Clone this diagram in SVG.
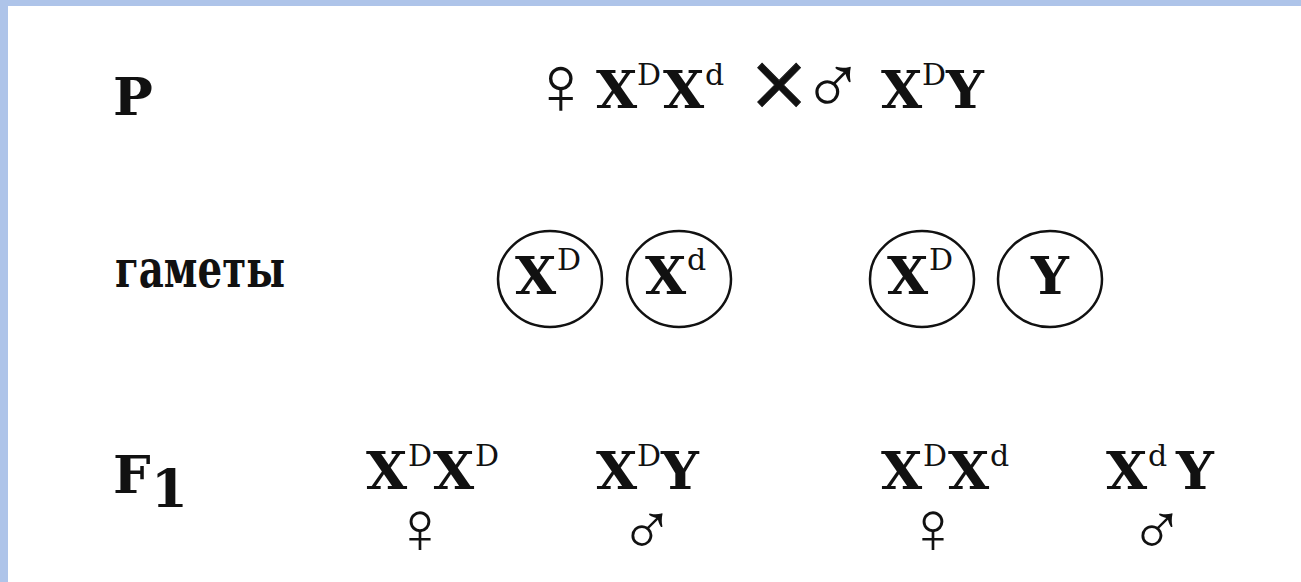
<svg xmlns="http://www.w3.org/2000/svg" width="1301" height="582" viewBox="0 0 1301 582">
<style>
.m{font-family:"DejaVu Serif","Liberation Serif",serif;font-weight:bold;font-size:53px;fill:#111}
.s{font-family:"DejaVu Serif","Liberation Serif",serif;font-weight:normal;font-size:30px;fill:#111}
.sym{font-family:"DejaVu Sans",sans-serif;font-weight:200;font-size:84px;fill:#111;text-anchor:middle}
.sym2{font-family:"DejaVu Sans",sans-serif;font-weight:200;font-size:74px;fill:#111;text-anchor:middle}
.x{font-family:"DejaVu Sans",sans-serif;font-weight:normal;font-size:76px;fill:#111;stroke:#111;stroke-width:0.9;text-anchor:middle}
.lbl{font-family:"DejaVu Serif","Liberation Serif",serif;font-weight:bold;font-size:53px;fill:#111}
.g{fill:none;stroke:#111;stroke-width:2.5}
</style>
<rect x="0" y="0" width="1301" height="582" fill="#aec4e9"/>
<rect x="8" y="6" width="1293" height="576" fill="#ffffff"/>
<g id="labels">
<text class="lbl" x="113" y="115">P</text>
<text class="lbl" x="115" y="287" font-size="46" textLength="170" lengthAdjust="spacingAndGlyphs">гаметы</text>
<text class="lbl" x="113" y="493">F</text>
<text class="lbl" x="151" y="507" font-size="42">1</text>
</g>
<g id="parents">
<text class="sym" x="561" y="114">♀</text>
<text class="m" x="596" y="108">X</text><text class="s" x="637" y="85">D</text>
<text class="m" x="663" y="108">X</text><text class="s" x="705" y="85">d</text>
<text class="x" x="779" y="109">×</text>
<text class="sym" x="833" y="114">♂</text>
<text class="m" x="881" y="108">X</text><text class="s" x="922" y="85">D</text>
<text class="m" x="946" y="108">Y</text>
</g>
<g id="gamete-1">
<ellipse class="g" cx="550" cy="279" rx="52" ry="48"/>
<text class="m" x="515" y="294">X</text><text class="s" x="557" y="270">D</text>
</g>
<g id="gamete-2">
<ellipse class="g" cx="679" cy="279" rx="52" ry="48"/>
<text class="m" x="645" y="294">X</text><text class="s" x="687" y="270">d</text>
</g>
<g id="gamete-3">
<ellipse class="g" cx="922" cy="279" rx="52" ry="48"/>
<text class="m" x="887" y="294">X</text><text class="s" x="929" y="270">D</text>
</g>
<g id="gamete-4">
<ellipse class="g" cx="1050" cy="279" rx="52" ry="48"/>
<text class="m" x="1050" y="294" text-anchor="middle">Y</text>
</g>
<g id="f1-1">
<text class="m" x="366" y="489">X</text><text class="s" x="408" y="466">D</text>
<text class="m" x="433" y="489">X</text><text class="s" x="475" y="466">D</text>
<text class="sym2" x="420" y="553">♀</text>
</g>
<g id="f1-2">
<text class="m" x="596" y="489">X</text><text class="s" x="637" y="466">D</text>
<text class="m" x="661" y="489">Y</text>
<text class="sym2" x="647" y="555">♂</text>
</g>
<g id="f1-3">
<text class="m" x="881" y="489">X</text><text class="s" x="923" y="466">D</text>
<text class="m" x="948" y="489">X</text><text class="s" x="990" y="466">d</text>
<text class="sym2" x="933" y="553">♀</text>
</g>
<g id="f1-4">
<text class="m" x="1106" y="489">X</text><text class="s" x="1148" y="466">d</text>
<text class="m" x="1176" y="489">Y</text>
<text class="sym2" x="1157" y="555">♂</text>
</g>
<g id="connectors"/>
</svg>
